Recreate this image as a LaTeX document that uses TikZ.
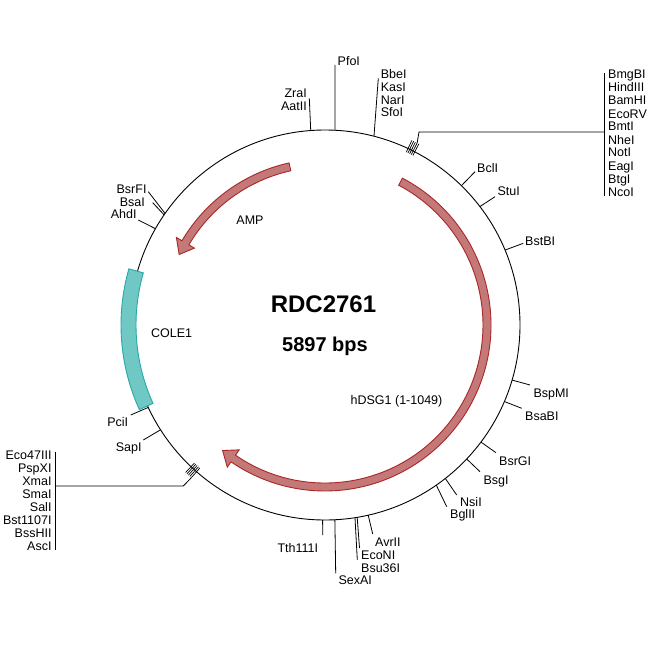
\documentclass[tikz,border=0pt]{standalone}
\usepackage{fontspec}
\setmainfont{Liberation Sans}
\definecolor{arrfill}{RGB}{196,120,120}
\definecolor{arrdraw}{RGB}{168,40,40}
\definecolor{orifill}{RGB}{112,200,196}
\definecolor{oridraw}{RGB}{40,168,168}
\begin{document}
\begin{tikzpicture}[x=1pt,y=-1pt,
  lbl/.style={font=\fontsize{12.5}{13}\selectfont, inner sep=0pt, text=black},
  site/.style={line width=0.8pt, draw=black},
  cuttick/.style={line width=0.7pt, draw=black},
  featarrow/.style={fill=arrfill, draw=arrdraw, line width=0.9pt},
  orifeat/.style={fill=orifill, draw=oridraw, line width=0.9pt}]
\useasboundingbox (0,0) rectangle (650,650);
\fill[white] (0,0) rectangle (650,650);

% backbone
\coordinate (C) at (325,325);
\draw[line width=0.9pt] (C) circle[radius=195];

\begin{scope}[shift={(325,325)}]
  % COLE1
  \path[orifeat] (155.5:204) arc[start angle=155.5,end angle=196,radius=204]
     -- (196:189) arc[start angle=196,end angle=155.5,radius=189] -- cycle;
  % hDSG1 (clockwise)
  \path[featarrow] (-62.2:166) arc[start angle=-62.2,end angle=124.5,radius=166]
     -- (124.5:172.5) -- (129.2:162) -- (124.5:151.5) -- (124.5:158)
     arc[start angle=124.5,end angle=-62.2,radius=158] -- cycle;
  % AMP (counter-clockwise)
  \path[featarrow] (257.5:166) arc[start angle=257.5,end angle=210.5,radius=166]
     -- (210.5:172.5) -- (205.8:162) -- (210.5:151.5) -- (210.5:158)
     arc[start angle=210.5,end angle=257.5,radius=158] -- cycle;

  % site points on the backbone
  \foreach \n/\t in {pfo/2.94, zra/-4.2, bbe/14.55, bcl/44.4, stu/52.6, bstb/67.4,
      bspm/106.4, bsab/113.1, bsrg/126.9, bsg/133.4, nsi/141.9, bgl/145.2,
      avr/167.2, eco/170.5, bsu/171.15, sex/177.1, tth/180.7,
      sap/237.5, pci/245, ahd/299.6, bsa/304.4, bsrf/304.9}
    \coordinate (\n) at ({\t-90}:195);

  % clustered cut ticks
  \foreach \t in {25.2,25.75,26.3,26.85,27.4}
    \draw[cuttick] ({\t-90}:191) -- ({\t-90}:204);
  \coordinate (rc) at ({26.85-90}:204);
  \foreach \t in {221.2,221.75,222.3,222.85,223.4}
    \draw[cuttick] ({\t-90}:190) -- ({\t-90}:203);
  \coordinate (lc) at ({221.2-90}:203);
\end{scope}

% site leader lines
\foreach \n/\x/\y in {pfo/335/65, zra/309.3/98.3, bbe/378.3/78.3, bcl/475/171.7,
    stu/495/196.7, bstb/523.3/243.3, bspm/530/385, bsab/521.7/408.3,
    bsrg/496/452.7, bsg/480/471.7, nsi/456.7/495, bgl/446.7/506.7,
    avr/372.7/534, eco/359.5/548, bsu/357.3/560, sex/335.7/573.3,
    tth/322.7/535, sap/143.3/440, pci/130.7/415, ahd/138.3/220,
    bsa/152.7/202.7, bsrf/148.3/191.7}
  {\coordinate (\n E) at (\x,\y); \draw[site] (\n) -- (\n E);}

% cluster leaders
\coordinate (rk) at (419,132); \coordinate (rb) at (604,132);
\coordinate (rt) at (604,73.3); \coordinate (rbot) at (604,196);
\draw[site] (rc) -- (rk) -- (rb);
\draw[site] (rt) -- (rbot);
\coordinate (lk) at (183.3,486); \coordinate (lb) at (55.3,486);
\coordinate (lt) at (55.3,451.7); \coordinate (lbot) at (55.3,550);
\draw[site] (lc) -- (lk) -- (lb);
\draw[site] (lt) -- (lbot);

% labels
\node[lbl, anchor=base west] (pfoL) at (337.5,65.5) {PfoI};
\node[lbl, anchor=base east] (zraL) at (307,98) {ZraI};
\node[lbl, anchor=base east] (aatL) at (307,111) {AatII};
\foreach \s [count=\k from 0] in {BbeI,KasI,NarI,SfoI}
  \node[lbl, anchor=base west] (bbeL\k) at (380.7,{78.5+12.8*\k}) {\s};
\node[lbl, anchor=base west] (bclL) at (477,172) {BclI};
\node[lbl, anchor=base west] (stuL) at (497.3,195) {StuI};
\node[lbl, anchor=base west] (bstbL) at (525,245) {BstBI};
\node[lbl, anchor=base west] (bspmL) at (533.3,397) {BspMI};
\node[lbl, anchor=base west] (bsabL) at (525,420.5) {BsaBI};
\node[lbl, anchor=base west] (bsrgL) at (499,465) {BsrGI};
\node[lbl, anchor=base west] (bsgL) at (483.3,484) {BsgI};
\node[lbl, anchor=base west] (nsiL) at (460,506) {NsiI};
\node[lbl, anchor=base west] (bglL) at (450,518.5) {BglII};
\node[lbl, anchor=base west] (avrL) at (375,546) {AvrII};
\node[lbl, anchor=base west] (ecoL) at (361,559) {EcoNI};
\node[lbl, anchor=base west] (bsuL) at (361,572) {Bsu36I};
\node[lbl, anchor=base west] (sexL) at (338.3,584.5) {SexAI};
\node[lbl, anchor=base east] (tthL) at (318.3,552) {Tth111I};
\node[lbl, anchor=base east] (sapL) at (141.7,451) {SapI};
\node[lbl, anchor=base east] (pciL) at (128.3,426) {PciI};
\node[lbl, anchor=base east] (bsrfL) at (146.7,193) {BsrFI};
\node[lbl, anchor=base east] (bsaL) at (145,206) {BsaI};
\node[lbl, anchor=base east] (ahdL) at (136.7,218.5) {AhdI};
\foreach \s [count=\k from 0] in {BmgBI,HindIII,BamHI,EcoRV,BmtI,NheI,NotI,EagI,BtgI,NcoI}
  \node[lbl, anchor=base west] (rL\k) at (608,{79+13*\k}) {\s};
\foreach \s [count=\k from 0] in {Eco47III,PspXI,XmaI,SmaI,SalI,Bst1107I,BssHII,AscI}
  \node[lbl, anchor=base east] (lL\k) at (51.7,{459.5+12.93*\k}) {\s};

% feature labels
\node[lbl, anchor=base] (ampL) at (250,224.5) {AMP};
\node[lbl, anchor=base] (coleL) at (171.7,337) {COLE1};
\node[lbl, anchor=base] (dsgL) at (396.5,404.5) {hDSG1 (1-1049)};
\node[inner sep=0pt, anchor=base, font=\fontsize{24}{28}\selectfont\bfseries] (title) at (323.5,312) {RDC2761};
\node[inner sep=0pt, anchor=base, font=\fontsize{20}{24}\selectfont\bfseries] (size) at (325,351) {5897 bps};
\end{tikzpicture}
\end{document}
